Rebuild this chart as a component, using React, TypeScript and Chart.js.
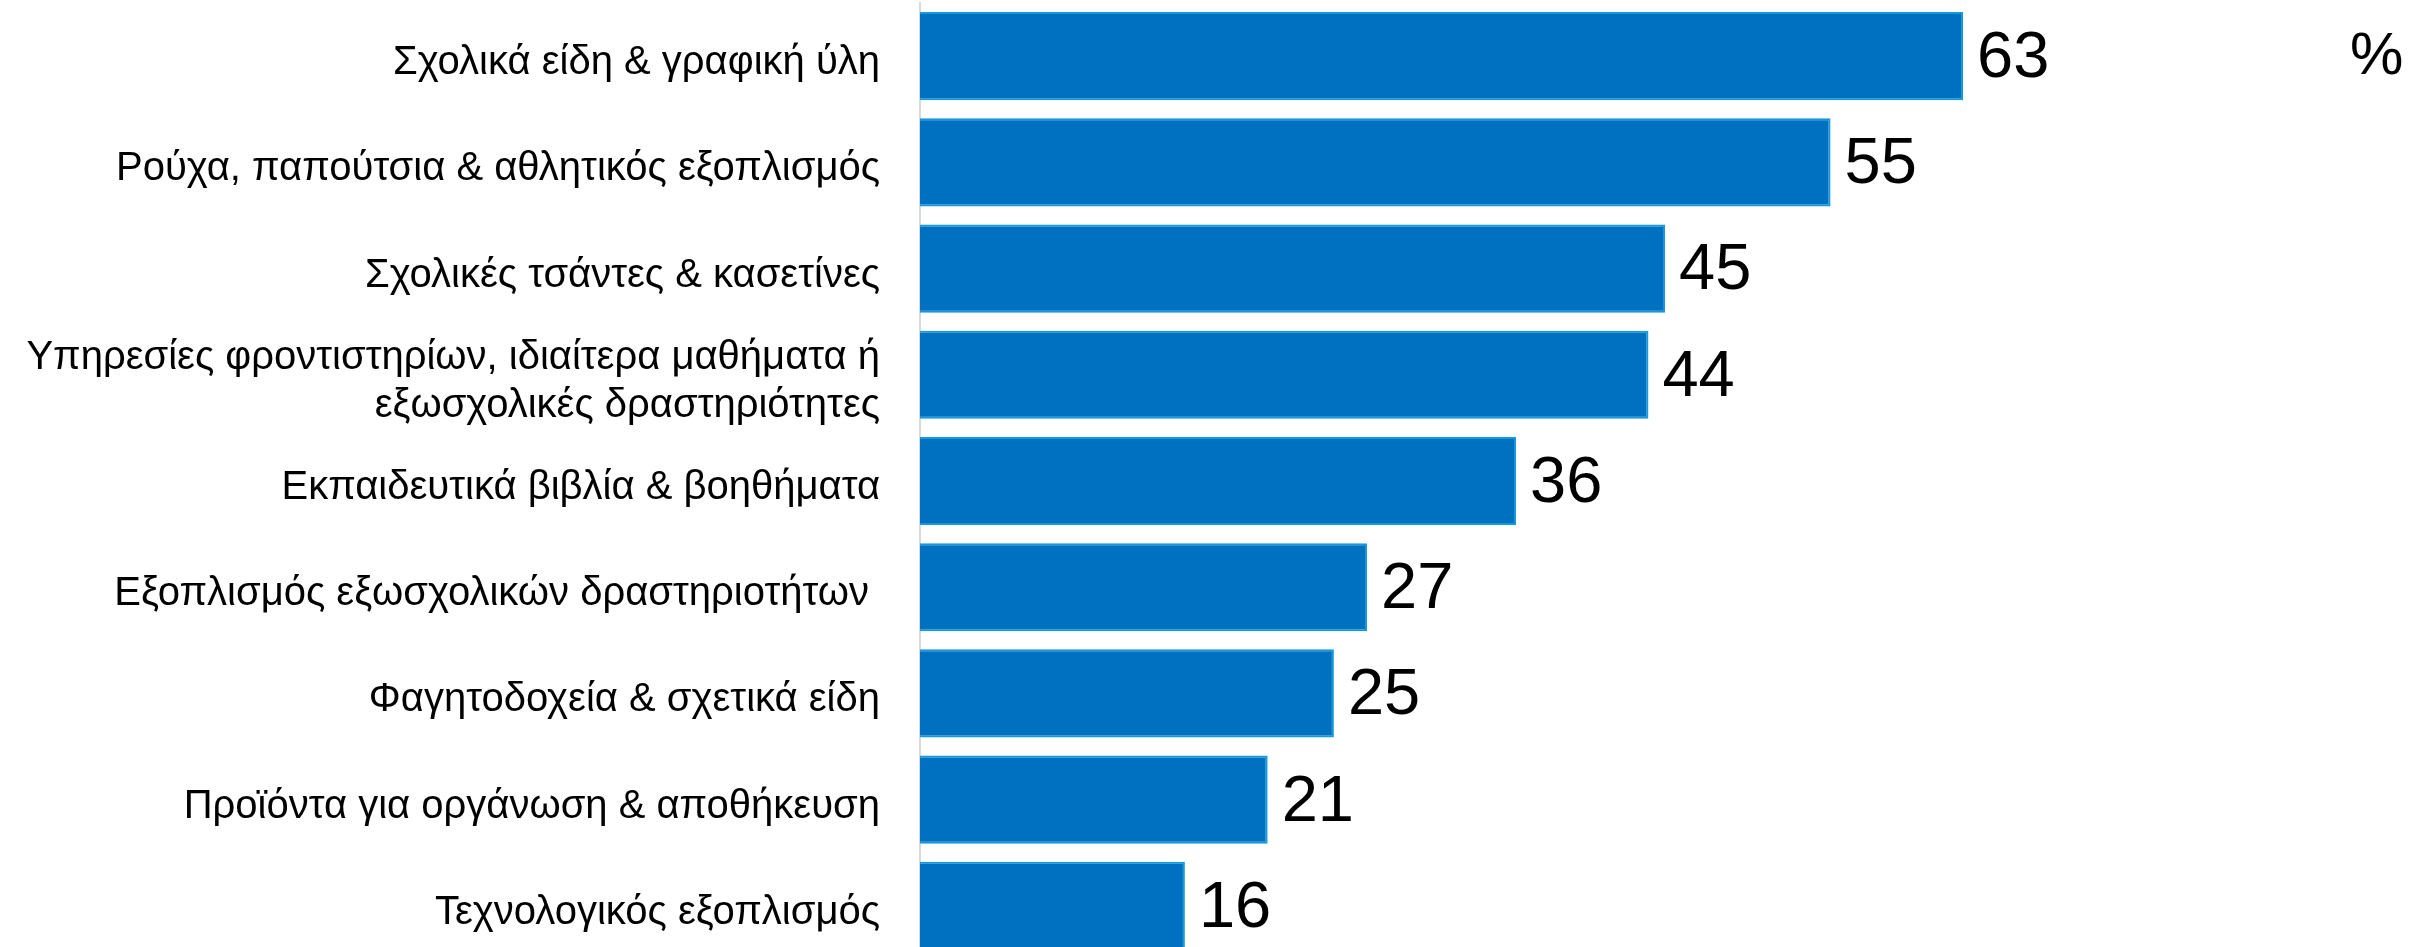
import React, { useEffect, useRef } from "react";
import { Chart, registerables } from "chart.js";

Chart.register(...registerables);

const categories: (string | string[])[] = [
  "Σχολικά είδη & γραφική ύλη",
  "Ρούχα, παπούτσια & αθλητικός εξοπλισμός",
  "Σχολικές τσάντες & κασετίνες",
  ["Υπηρεσίες φροντιστηρίων, ιδιαίτερα μαθήματα ή", "εξωσχολικές δραστηριότητες"],
  "Εκπαιδευτικά βιβλία & βοηθήματα",
  "Εξοπλισμός εξωσχολικών δραστηριοτήτων ",
  "Φαγητοδοχεία & σχετικά είδη",
  "Προϊόντα για οργάνωση & αποθήκευση",
  "Τεχνολογικός εξοπλισμός",
];

const values: number[] = [63, 55, 45, 44, 36, 27, 25, 21, 16];

const unitLabel = "%";

const FONT = "'Liberation Sans', Arial, sans-serif";

const valueLabelPlugin = {
  id: "valueLabels",
  afterDatasetsDraw(chart: any) {
    const ctx = chart.ctx;
    const meta = chart.getDatasetMeta(0);
    ctx.save();
    ctx.font = `65px ${FONT}`;
    ctx.fillStyle = "#000000";
    ctx.textAlign = "left";
    ctx.textBaseline = "middle";
    meta.data.forEach((bar: any, i: number) => {
      ctx.fillText(String(values[i]), bar.x + 14, bar.y + 3);
    });
    ctx.font = `60px ${FONT}`;
    ctx.fillText(unitLabel, 2350, 57);
    ctx.restore();
  },
};

export default function App() {
  const ref = useRef<HTMLCanvasElement | null>(null);
  useEffect(() => {
    if (!ref.current) return;
    const chart = new Chart(ref.current, {
      type: "bar",
      data: {
        labels: categories,
        datasets: [
          {
            data: values,
            backgroundColor: "#0070C0",
            borderColor: "#119BDB",
            borderWidth: 2,
            borderSkipped: "left",
            categoryPercentage: 1,
            barPercentage: 0.83,
          },
        ],
      },
      options: {
        indexAxis: "y",
        responsive: false,
        animation: false,
        maintainAspectRatio: false,
        layout: { padding: { top: 3, bottom: 3, left: 0, right: 12 } },
        plugins: {
          legend: { display: false },
          tooltip: { enabled: false },
          title: { display: false },
        },
        scales: {
          x: {
            display: false,
            min: 0,
            max: 90,
          },
          y: {
            grid: { display: false, drawTicks: false },
            border: { display: true, color: "#D9D9D9", width: 2 },
            ticks: {
              color: "#000000",
              padding: 40,
              labelOffset: 7,
              font: { family: FONT, size: 40, lineHeight: 1.2 },
            },
            afterFit(scale: any) {
              scale.width = 920;
              scale.paddingTop = 0;
              scale.paddingBottom = 0;
            },
          },
        },
      },
      plugins: [valueLabelPlugin],
    });
    return () => chart.destroy();
  }, []);
  return (
    <div
      style={{
        position: "fixed",
        left: 0,
        top: 0,
        width: 2422,
        height: 947,
        overflow: "hidden",
        background: "#ffffff",
      }}
    >
      <canvas ref={ref} width={2422} height={962} style={{ display: "block" }} />
    </div>
  );
}
